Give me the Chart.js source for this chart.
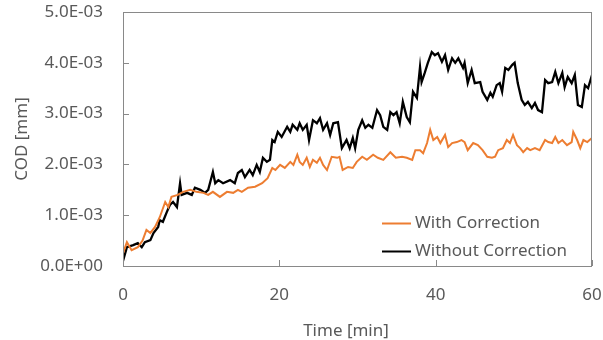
<!DOCTYPE html>
<html>
<head>
<meta charset="utf-8">
<script src="https://cdn.jsdelivr.net/npm/chart.js@4/dist/chart.umd.min.js"></script>
<style>
    html, body { margin: 0; padding: 0; background: #ffffff; }
    #wrap { width: 603px; height: 340px; }
</style>
</head>
<body>
<div id="wrap"><canvas id="codChart" width="603" height="340"></canvas></div>
<script>
// time [min] and COD [x1E-03 mm]
const timeWithout = [0, 0.5, 1.3, 1.9, 2.4, 2.8, 3.5, 3.9, 4.5, 4.7, 5.1, 5.6, 6.0, 6.4, 6.9, 7.3, 7.5, 8.2, 8.8, 9.2, 9.9, 10.5, 10.9, 11.5, 11.8, 12.2, 12.8, 13.7, 14.3, 14.7, 15.2, 15.6, 16.2, 16.6, 17.1, 17.5, 17.9, 18.4, 18.8, 19.1, 19.4, 19.8, 20.3, 21.0, 21.4, 21.7, 22.3, 22.6, 23.0, 23.5, 23.8, 24.3, 24.8, 25.2, 25.6, 26.1, 26.5, 26.9, 27.5, 28.0, 28.6, 29.0, 29.4, 29.7, 30.1, 30.6, 31.0, 31.4, 31.9, 32.5, 32.9, 33.3, 33.8, 34.2, 34.6, 35.0, 35.4, 35.8, 36.3, 36.7, 37.1, 37.6, 38.0, 38.2, 38.6, 39.0, 39.5, 39.9, 40.3, 40.8, 41.2, 41.6, 42.1, 42.5, 42.9, 43.5, 43.7, 44.1, 44.6, 45.0, 45.7, 46.0, 46.6, 47.0, 47.3, 47.8, 48.2, 48.5, 48.9, 49.3, 49.8, 50.1, 50.5, 51.0, 51.4, 51.8, 52.3, 52.7, 53.1, 53.6, 54.0, 54.4, 54.9, 55.3, 55.7, 56.2, 56.5, 56.9, 57.4, 57.8, 58.2, 58.7, 59.1, 59.5, 60.0];
const codWithout = [0.10, 0.37, 0.41, 0.45, 0.37, 0.47, 0.51, 0.65, 0.77, 0.90, 0.87, 1.06, 1.20, 1.26, 1.16, 1.63, 1.40, 1.44, 1.40, 1.54, 1.50, 1.44, 1.50, 1.85, 1.63, 1.69, 1.63, 1.69, 1.63, 1.83, 1.89, 1.75, 1.89, 1.79, 1.99, 1.85, 2.13, 2.05, 2.09, 2.48, 2.44, 2.64, 2.54, 2.74, 2.64, 2.78, 2.68, 2.81, 2.68, 2.78, 2.48, 2.87, 2.81, 2.91, 2.68, 2.81, 2.58, 2.81, 2.83, 2.32, 2.48, 2.32, 2.52, 2.32, 2.68, 2.87, 2.72, 2.78, 2.72, 3.07, 2.97, 2.74, 2.68, 3.03, 2.97, 3.03, 2.81, 3.23, 2.93, 2.83, 3.43, 3.31, 3.92, 3.62, 3.80, 4.00, 4.21, 4.15, 4.19, 4.02, 4.15, 3.86, 4.09, 4.00, 4.09, 3.90, 4.00, 3.60, 3.86, 3.60, 3.62, 3.43, 3.27, 3.41, 3.33, 3.56, 3.60, 3.43, 3.90, 3.86, 3.96, 4.00, 3.60, 3.27, 3.17, 3.23, 3.11, 3.21, 3.07, 3.03, 3.66, 3.60, 3.62, 3.82, 3.60, 3.80, 3.52, 3.72, 3.60, 3.76, 3.17, 3.13, 3.56, 3.50, 3.76];

const timeWith = [0, 0.5, 1.1, 1.9, 2.5, 3.0, 3.5, 4.1, 4.7, 5.4, 5.8, 6.2, 7.0, 7.7, 8.6, 9.4, 10.3, 10.9, 11.5, 12.4, 13.3, 14.1, 14.7, 15.2, 16.0, 16.9, 17.8, 18.5, 19.1, 19.5, 20.1, 20.7, 21.4, 21.8, 22.3, 22.6, 23.0, 23.5, 23.9, 24.3, 24.8, 25.2, 25.6, 26.1, 26.7, 27.4, 27.7, 28.1, 28.8, 29.4, 29.9, 30.6, 31.2, 32.0, 32.6, 33.3, 34.2, 34.9, 35.7, 36.3, 37.0, 37.4, 38.0, 38.4, 38.9, 39.3, 39.7, 40.2, 40.6, 41.2, 41.6, 42.1, 42.7, 43.3, 43.7, 44.1, 44.8, 45.4, 46.0, 46.6, 47.2, 47.6, 48.0, 48.6, 49.1, 49.5, 49.9, 50.4, 50.8, 51.2, 51.7, 52.1, 52.7, 53.3, 54.0, 54.4, 54.9, 55.3, 55.7, 56.2, 56.8, 57.4, 57.6, 58.1, 58.5, 58.9, 59.4, 60.0];
const codWith = [0.25, 0.47, 0.31, 0.37, 0.50, 0.71, 0.65, 0.77, 0.96, 1.26, 1.16, 1.36, 1.40, 1.46, 1.50, 1.46, 1.44, 1.40, 1.46, 1.36, 1.46, 1.44, 1.50, 1.46, 1.54, 1.56, 1.63, 1.73, 1.93, 1.89, 1.99, 1.93, 2.05, 1.99, 2.19, 2.05, 1.99, 2.13, 1.95, 2.09, 2.03, 2.13, 1.99, 1.89, 2.15, 2.13, 2.15, 1.89, 1.95, 1.93, 2.05, 2.15, 2.09, 2.19, 2.13, 2.09, 2.24, 2.13, 2.15, 2.13, 2.09, 2.28, 2.28, 2.22, 2.42, 2.68, 2.48, 2.54, 2.42, 2.58, 2.34, 2.42, 2.44, 2.48, 2.44, 2.28, 2.42, 2.38, 2.28, 2.15, 2.13, 2.15, 2.28, 2.32, 2.48, 2.42, 2.58, 2.38, 2.32, 2.24, 2.32, 2.28, 2.32, 2.28, 2.48, 2.44, 2.42, 2.54, 2.42, 2.48, 2.38, 2.44, 2.64, 2.48, 2.32, 2.48, 2.44, 2.52];

const seriesLabels = ['With Correction', 'Without Correction'];
const xTicks = [0, 20, 40, 60];
const yTicks = [0, 1e-3, 2e-3, 3e-3, 4e-3, 5e-3];
const xTitle = 'Time [min]';

const textColor = '#595959';
const frameColor = '#898989';
const fontFamily = '"Noto Sans", "Open Sans", sans-serif';

function toPoints(times, vals) {
    return times.map((t, i) => ({ x: t, y: vals[i] * 1e-3 }));
}

function sciLabel(v) {
    if (v === 0) return '0.0E+00';
    const exp = Math.floor(Math.log10(Math.abs(v)) + 1e-9);
    const mant = v / Math.pow(10, exp);
    const sign = exp < 0 ? '-' : '+';
    return mant.toFixed(1) + 'E' + sign + String(Math.abs(exp)).padStart(2, '0');
}

// frame + inward tick marks, Excel style
const framePlugin = {
    id: 'frame',
    afterDatasetsDraw(chart) {
        const { ctx, chartArea: a, scales } = chart;
        ctx.save();
        ctx.strokeStyle = frameColor;
        ctx.lineWidth = 1;
        ctx.strokeRect(a.left + 0.5, a.top + 0.5, a.right - a.left - 1, a.bottom - a.top);
        ctx.beginPath();
        xTicks.forEach(t => {
            const px = Math.round(scales.x.getPixelForValue(t)) + 0.5;
            ctx.moveTo(px, a.bottom);
            ctx.lineTo(px, a.bottom - 6);
        });
        yTicks.forEach(v => {
            const py = Math.round(scales.y.getPixelForValue(v)) + 0.5;
            ctx.moveTo(a.left, py);
            ctx.lineTo(a.left + 6, py);
        });
        ctx.stroke();
        ctx.restore();
    }
};

// legend inside the plot (lower right) and the x title, which sits a bit left of centre
const insideLegend = {
    id: 'insideLegend',
    afterDraw(chart) {
        const { ctx } = chart;
        const rows = [223, 251];
        ctx.save();
        ctx.font = '17px ' + fontFamily;
        ctx.textBaseline = 'middle';
        ctx.fillStyle = textColor;
        chart.data.datasets.forEach((ds, i) => {
            const y = rows[i];
            ctx.strokeStyle = ds.borderColor;
            ctx.lineWidth = 2;
            ctx.beginPath();
            ctx.moveTo(382, y + 0.5);
            ctx.lineTo(411, y + 0.5);
            ctx.stroke();
            ctx.fillText(ds.label, 415, y);
        });
        ctx.textAlign = 'center';
        ctx.fillText(xTitle, 346, 331);
        ctx.restore();
    }
};

new Chart(document.getElementById('codChart'), {
    type: 'line',
    data: {
        datasets: [
            { label: seriesLabels[0], data: toPoints(timeWith, codWith), borderColor: '#ed7d31', borderWidth: 2, pointRadius: 0, tension: 0, fill: false },
            { label: seriesLabels[1], data: toPoints(timeWithout, codWithout), borderColor: '#000000', borderWidth: 2.3, pointRadius: 0, tension: 0, fill: false }
        ]
    },
    options: {
        responsive: false,
        animation: false,
        devicePixelRatio: 1,
        layout: { padding: { left: 0, right: 11, top: 12, bottom: 0 } },
        plugins: { legend: { display: false }, tooltip: { enabled: false } },
        scales: {
            x: {
                type: 'linear', min: 0, max: 60,
                afterBuildTicks: s => { s.ticks = xTicks.map(v => ({ value: v })); },
                afterFit: s => { s.height = 74; s.paddingLeft = 0; s.paddingRight = 0; },
                grid: { display: false, drawTicks: false },
                border: { display: false },
                ticks: { color: textColor, font: { family: fontFamily, size: 17 }, padding: 19, maxRotation: 0 },
                title: { display: false }
            },
            y: {
                min: 0, max: 5e-3,
                afterBuildTicks: s => { s.ticks = yTicks.map(v => ({ value: v })); },
                afterFit: s => { s.width = 123; s.paddingTop = 0; s.paddingBottom = 0; },
                grid: { display: false, drawTicks: false },
                border: { display: false },
                ticks: { color: textColor, font: { family: fontFamily, size: 17 }, padding: 20, callback: v => sciLabel(v) },
                title: { display: true, text: 'COD [mm]', color: textColor, font: { family: fontFamily, size: 17 }, padding: { top: 12, bottom: 0 } }
            }
        }
    },
    plugins: [framePlugin, insideLegend]
});
</script>
</body>
</html>
